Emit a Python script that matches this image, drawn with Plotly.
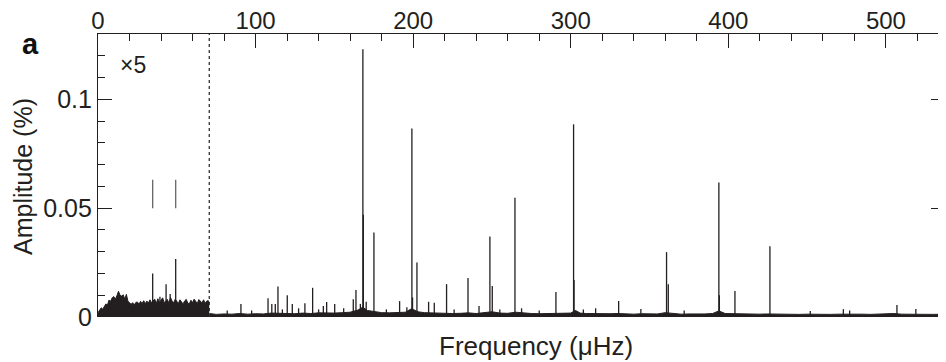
import plotly.graph_objects as go

# ---------------- data ----------------
# noise envelope of the x5-magnified low-frequency part (0-71 uHz)
low_freq = [0, 1, 2, 3, 4, 5, 6, 7, 8, 9, 10, 11, 12, 13, 14, 15, 16, 17, 18, 19,
            20, 21, 22, 23, 24, 25, 26, 27, 28, 29, 30, 31, 32, 33, 34, 35, 36, 37, 38, 39,
            40, 41, 42, 43, 44, 45, 46, 47, 48, 49, 50, 51, 52, 53, 54, 55, 56, 57, 58, 59,
            60, 61, 62, 63, 64, 65, 66, 67, 68, 69, 70, 70.6]
low_amp = [0.0020, 0.0032, 0.0042, 0.0036, 0.0052, 0.0060, 0.0055, 0.0078, 0.0072, 0.0088,
           0.0094, 0.0082, 0.0098, 0.0118, 0.0100, 0.0096, 0.0102, 0.0082, 0.0104, 0.0072,
           0.0066, 0.0058, 0.0066, 0.0055, 0.0067, 0.0069, 0.0058, 0.0072, 0.0062, 0.0075,
           0.0061, 0.0073, 0.0064, 0.0079, 0.0065, 0.0074, 0.0082, 0.0062, 0.0084, 0.0066,
           0.0077, 0.0088, 0.0066, 0.0075, 0.0081, 0.0063, 0.0090, 0.0073, 0.0065, 0.0082,
           0.0070, 0.0062, 0.0079, 0.0067, 0.0060, 0.0074, 0.0081, 0.0063, 0.0062, 0.0077,
           0.0066, 0.0082, 0.0072, 0.0062, 0.0080, 0.0070, 0.0065, 0.0079, 0.0063, 0.0073,
           0.0075, 0.0064]

# noise floor of the rest of the spectrum
floor_freq = [70.8, 75, 80, 85, 90, 95, 100, 105, 110, 115, 120, 125, 130, 135, 140, 145,
              150, 155, 160, 165, 168, 171, 175, 180, 185, 190, 195, 199, 203, 207, 210, 215,
              220, 225, 230, 235, 240, 245, 250, 255, 260, 265, 270, 275, 280, 285, 290, 295,
              300, 303, 306, 310, 315, 320, 325, 330, 335, 340, 345, 350, 355, 360, 365, 370,
              375, 380, 385, 390, 394, 398, 402, 405, 410, 415, 420, 425, 430, 435, 440, 445,
              450, 455, 460, 465, 470, 475, 480, 485, 490, 495, 500, 505, 510, 515, 520, 525,
              530, 537]
floor_amp = [0.0016, 0.0012, 0.0014, 0.0013, 0.0016, 0.0013, 0.0015, 0.0014, 0.0018, 0.0016,
             0.0017, 0.0015, 0.0018, 0.0016, 0.0019, 0.0017, 0.0018, 0.0020, 0.0022, 0.0032,
             0.0045, 0.0030, 0.0024, 0.0020, 0.0019, 0.0020, 0.0022, 0.0038, 0.0024, 0.0020,
             0.0019, 0.0018, 0.0017, 0.0016, 0.0017, 0.0019, 0.0016, 0.0020, 0.0024, 0.0018,
             0.0017, 0.0022, 0.0018, 0.0016, 0.0015, 0.0016, 0.0017, 0.0016, 0.0018, 0.0030,
             0.0018, 0.0016, 0.0015, 0.0014, 0.0015, 0.0016, 0.0014, 0.0013, 0.0015, 0.0013,
             0.0014, 0.0020, 0.0015, 0.0013, 0.0014, 0.0013, 0.0014, 0.0016, 0.0028, 0.0016,
             0.0015, 0.0014, 0.0013, 0.0012, 0.0013, 0.0014, 0.0013, 0.0012, 0.0013, 0.0012,
             0.0013, 0.0012, 0.0014, 0.0012, 0.0013, 0.0014, 0.0012, 0.0013, 0.0012, 0.0014,
             0.0013, 0.0016, 0.0013, 0.0012, 0.0014, 0.0013, 0.0012, 0.0013]

# individual peaks
peak_freq = [34.7, 39.3, 43.2, 45.8, 49.3,
             82.0, 90.7, 97.5, 107.9, 110.3, 112.5, 114.2, 117.0, 120.1, 123.3, 127.3, 131.3,
             136.2, 140.0, 143.0, 145.1, 150.2, 155.9, 162.0, 163.7, 166.5, 168.1, 168.4, 170.2,
             175.1, 183.0, 191.4, 196.0, 199.2, 199.6, 202.4, 209.8, 213.4, 221.2, 226.0, 234.8,
             241.8, 248.7, 250.2, 255.0, 264.6, 268.8, 280.0, 290.6, 301.8, 302.1, 308.0, 315.8,
             330.4, 344.5, 360.8, 361.9, 372.0, 394.0, 394.3, 404.2, 426.4, 452.0, 473.0, 477.0,
             507.0, 519.0]
peak_amp = [0.0200, 0.0093, 0.0150, 0.0106, 0.0266,
            0.0030, 0.0060, 0.0030, 0.0086, 0.0060, 0.0060, 0.0140, 0.0035, 0.0100, 0.0060,
            0.0040, 0.0063, 0.0134, 0.0035, 0.0050, 0.0069, 0.0060, 0.0040, 0.0082, 0.0124,
            0.0060, 0.1230, 0.0470, 0.0070, 0.0388, 0.0035, 0.0073, 0.0045, 0.0866, 0.0090,
            0.0250, 0.0070, 0.0066, 0.0151, 0.0035, 0.0179, 0.0050, 0.0370, 0.0142, 0.0035,
            0.0548, 0.0040, 0.0030, 0.0115, 0.0885, 0.0170, 0.0035, 0.0040, 0.0073, 0.0037,
            0.0298, 0.0151, 0.0030, 0.0618, 0.0100, 0.0120, 0.0325, 0.0028, 0.0036, 0.0030,
            0.0055, 0.0037]

# markers above the two low-frequency peaks
marker_freq = [34.7, 49.3]
marker_low, marker_high = 0.050, 0.063

x_ticks = [0, 100, 200, 300, 400, 500]
y_ticks = [0, 0.05, 0.1]
y_tick_text = ["0", "0.05", "0.1"]
cut_freq = 70.6

# ---------------- figure ----------------
FONT = "Liberation Sans, Arial, Helvetica, sans-serif"
INK = "#231f20"

# the page body has an 8 px margin, so the figure is sized/offset to compensate
W, H = 938, 354
ML, MR, MT, MB = 90, 1, 26, 45
PW, PH = W - ML - MR, H - MT - MB


def px_to_paper_x(page_x):
    return (page_x - 8 - ML) / PW


def px_to_paper_y(page_y):
    return 1 - (page_y - 8 - MT) / PH


fig = go.Figure()

fig.add_trace(go.Scatter(x=low_freq, y=low_amp, mode="lines", fill="tozeroy",
                         line=dict(color=INK, width=1), fillcolor=INK, hoverinfo="skip"))
fig.add_trace(go.Scatter(x=floor_freq, y=floor_amp, mode="lines", fill="tozeroy",
                         line=dict(color=INK, width=1), fillcolor=INK, hoverinfo="skip"))

pxs, pys = [], []
for f, a in zip(peak_freq, peak_amp):
    pxs += [f, f, None]
    pys += [0, a, None]
fig.add_trace(go.Scatter(x=pxs, y=pys, mode="lines", line=dict(color=INK, width=1.3),
                         hoverinfo="skip"))

mx, my = [], []
for f in marker_freq:
    mx += [f, f, None]
    my += [marker_low, marker_high, None]
fig.add_trace(go.Scatter(x=mx, y=my, mode="lines", line=dict(color="#666666", width=1.3),
                         hoverinfo="skip"))

fig.add_shape(type="line", xref="x", yref="paper", x0=cut_freq, x1=cut_freq, y0=0, y1=1,
              line=dict(color=INK, width=1.2, dash="dot"))

fig.update_layout(
    width=W, height=H,
    margin=dict(l=ML, r=MR, t=MT, b=MB),
    paper_bgcolor="white", plot_bgcolor="white",
    showlegend=False,
    font=dict(family=FONT, size=24, color=INK),
    xaxis=dict(range=[0, 537.5], side="top", showline=True, linecolor=INK, linewidth=1.2,
               ticks="inside", ticklen=14, tickwidth=1.2, tickcolor=INK, automargin=False,
               tickvals=x_ticks, showgrid=False, zeroline=False, mirror=False,
               ticklabelstandoff=-6,
               tickfont=dict(size=24, color=INK),
               minor=dict(dtick=20, ticks="inside", ticklen=7, tickwidth=1.2, tickcolor=INK,
                          showgrid=False)),
    yaxis=dict(range=[0, 0.13], showline=True, linecolor=INK, linewidth=1.2,
               ticks="inside", ticklen=14, tickwidth=1.2, tickcolor=INK, automargin=False,
               tickvals=y_ticks, ticktext=y_tick_text, showgrid=False, zeroline=False,
               mirror="ticks", tickfont=dict(size=25, color=INK),
               minor=dict(dtick=0.01, ticks="inside", ticklen=7, tickwidth=1.2, tickcolor=INK,
                          showgrid=False)),
)

fig.add_annotation(text="Frequency (\u03bcHz)", xref="paper", yref="paper",
                   x=px_to_paper_x(536), y=px_to_paper_y(346), xanchor="center", yanchor="middle",
                   showarrow=False, font=dict(size=26, color=INK, family=FONT))
fig.add_annotation(text="Amplitude (%)", xref="paper", yref="paper", textangle=-90,
                   x=px_to_paper_x(23), y=px_to_paper_y(177), xanchor="center", yanchor="middle",
                   showarrow=False, font=dict(size=25, color=INK, family=FONT))
fig.add_annotation(text="<b>a</b>", xref="paper", yref="paper",
                   x=px_to_paper_x(30), y=px_to_paper_y(44), xanchor="center", yanchor="middle",
                   showarrow=False, font=dict(size=29, color="#111111", family=FONT))
fig.add_annotation(text="\u00d75", xref="paper", yref="paper",
                   x=px_to_paper_x(133), y=px_to_paper_y(65), xanchor="center", yanchor="middle",
                   showarrow=False, font=dict(size=23, color=INK, family=FONT))

fig.write_html("out.html")
